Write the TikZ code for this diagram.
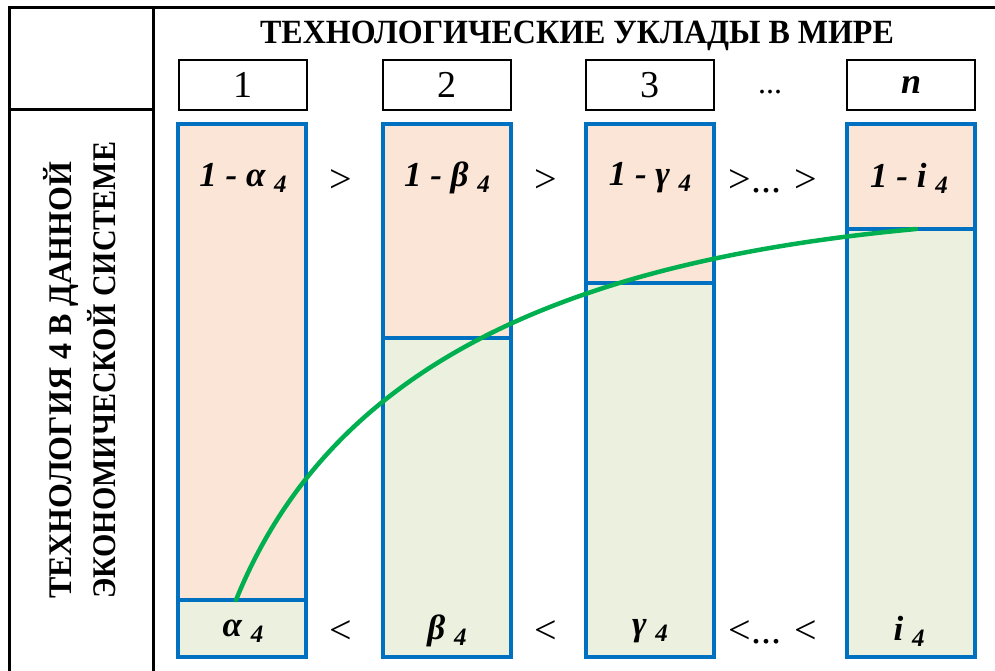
\documentclass[tikz,border=0pt]{standalone}
\usepackage{fontspec}
\usepackage{graphicx}
\setmainfont{Liberation Serif}
\definecolor{barblue}{HTML}{0070C0}
\definecolor{peach}{HTML}{FBE5D6}
\definecolor{pale}{HTML}{EBF1DE}
\definecolor{trend}{HTML}{00B050}
\newcommand{\lowsub}[1]{\raisebox{-6pt}{\fontsize{25}{27}\selectfont #1}}
\tikzset{etq/.style={font=\fontsize{35}{38}\selectfont\bfseries\itshape, inner sep=0pt},
  cmp/.style={font=\fontsize{40}{44}\selectfont, inner sep=0pt},
  numbox/.style={draw, line width=2.6pt, minimum width=128pt, minimum height=50pt, inner sep=0pt,
    font=\fontsize{38}{40}\selectfont}}
\begin{document}
\begin{tikzpicture}[x=1pt, y=-1pt]
  \useasboundingbox (0,0) rectangle (995,671);
  % table frame
  \draw[line width=3pt] (995,8) -- (9,8) -- (9,671);
  \draw[line width=3pt] (153,8) -- (153,671);
  \draw[line width=3pt] (9,110) -- (153,110);
  \node[font=\fontsize{32}{34}\selectfont\bfseries, yscale=1.06] (title) at (577,36) {ТЕХНОЛОГИЧЕСКИЕ УКЛАДЫ В МИРЕ};
  \node[rotate=90, anchor=west, align=left, inner sep=0pt, yscale=1.1,
    font=\fontsize{30}{40}\selectfont\bfseries] (side) at (80,599)
    {\scalebox{1.066}[1]{ТЕХНОЛОГИЯ 4 В ДАННОЙ}\\ЭКОНОМИЧЕСКОЙ СИСТЕМЕ};
  % columns
  \foreach \i/\x/\d in {1/178/600, 2/383/338, 3/586/283, 4/847/229} {
    \fill[peach] (\x,124) rectangle (\x+128,\d);
    \fill[pale] (\x,\d) rectangle (\x+128,657);
    \draw[barblue, line width=4.5pt] (\x,124) rectangle (\x+128,657);
    \draw[barblue, line width=4pt] (\x,\d) -- (\x+128,\d);
  }
  \node[numbox] (h1) at (243,85) {1};
  \node[numbox] (h2) at (447,85) {2};
  \node[numbox] (h3) at (650,85) {3};
  \node[numbox, font=\fontsize{36}{38}\selectfont\bfseries\itshape] (hn) at (911,85) {n};
  \node[font=\fontsize{32}{34}\selectfont] (hdots) at (770,92) {...};
  % curve
  \coordinate (a4) at (236,600);
  \coordinate (i4) at (916,229);
  \draw[trend, line width=4.5pt, line cap=round] (a4) .. controls (330,368) and (560,262) .. (i4);
  % upper labels
  \node[etq] (u1) at (243,178) {1 - α~\lowsub{4}};
  \node[cmp] (gt1) at (341,181) {>};
  \node[etq] (u2) at (447,178) {1 - β~\lowsub{4}};
  \node[cmp] (gt2) at (546,181) {>};
  \node[etq] (u3) at (650,178) {1 - γ~\lowsub{4}};
  \node[cmp] (gt3) at (773,181) {>... >};
  \node[etq] (u4) at (909,178) {1 - i~\lowsub{4}};
  % lower labels
  \node[etq] (l1) at (243,631) {α~\lowsub{4}};
  \node[cmp] (lt1) at (341,632) {<};
  \node[etq] (l2) at (447,631) {β~\lowsub{4}};
  \node[cmp] (lt2) at (546,632) {<};
  \node[etq] (l3) at (650,631) {γ~\lowsub{4}};
  \node[cmp] (lt3) at (773,632) {<... <};
  \node[etq] (l4) at (909,631) {i~\lowsub{4}};
\end{tikzpicture}
\end{document}
